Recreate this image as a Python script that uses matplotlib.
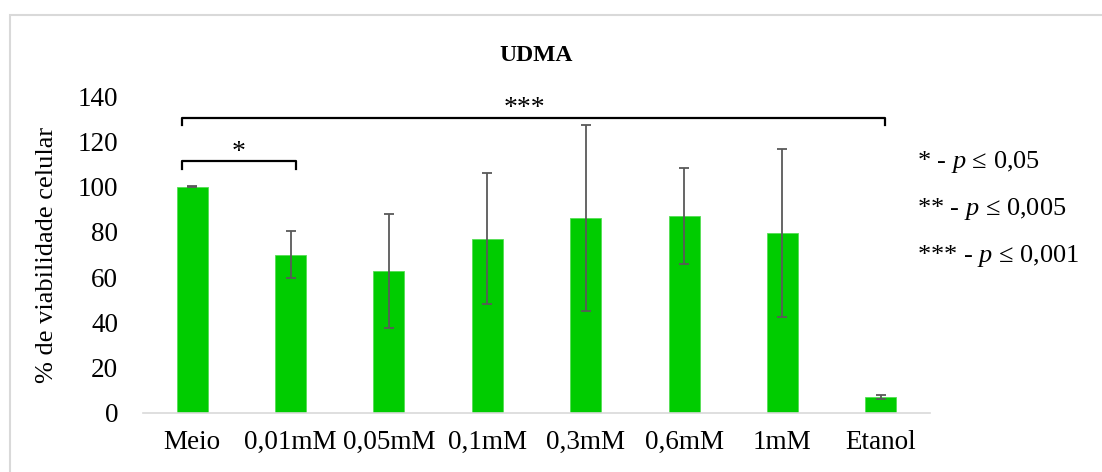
import matplotlib.pyplot as plt
from matplotlib.patches import Rectangle

plt.rcParams['font.family'] = ['Liberation Serif', 'DejaVu Serif']
plt.rcParams['mathtext.fontset'] = 'custom'
plt.rcParams['mathtext.rm'] = 'Liberation Serif'
plt.rcParams['mathtext.it'] = 'Liberation Serif:italic'

categorias = ['Meio', '0,01mM', '0,05mM', '0,1mM', '0,3mM', '0,6mM', '1mM', 'Etanol']
viabilidade = [100, 70, 62.8, 77, 86, 87, 79.6, 7]
erro = [0.3, 10.2, 25.3, 29, 41, 21.2, 37, 1]
legenda = ['* - $p$ ≤ 0,05', '** - $p$ ≤ 0,005', '*** - $p$ ≤ 0,001']

fig = plt.figure(figsize=(11.02, 4.72), dpi=100)
fig.patches.append(Rectangle((10 / 1102, -0.1), 1.2, 1 - 15 / 472 + 0.1,
                             transform=fig.transFigure, fill=False,
                             edgecolor='#d9d9d9', linewidth=1.5))
ax = fig.add_axes([143 / 1102, 1 - 413 / 472, 787 / 1102, 317 / 472])

x = range(len(categorias))
ax.bar(x, viabilidade, width=0.315, color='#00cc00', edgecolor='#55dd55', linewidth=0.6,
       yerr=erro, error_kw=dict(ecolor='#595959', elinewidth=1.3, capsize=3.8, capthick=1.3))

ax.set_xlim(-0.5, len(categorias) - 0.5)
ax.set_ylim(0, 140)
ax.set_yticks(range(0, 141, 20))
ax.set_xticks(list(x))
ax.set_xticklabels(categorias)
ax.tick_params(axis='both', length=0, labelsize=19.5, colors='black')
ax.tick_params(axis='y', pad=18)
ax.tick_params(axis='x', pad=12)
for s in ['top', 'right', 'left']:
    ax.spines[s].set_visible(False)
ax.spines['bottom'].set_color('#d9d9d9')
ax.spines['bottom'].set_linewidth(1.2)

ax.set_ylabel('% de viabilidade celular', fontsize=19, labelpad=14)
ax.set_title('UDMA', fontsize=17, fontweight='bold', pad=25)

# brackets
ax.plot([-0.105, -0.105, 7.04, 7.04], [127.3, 130.4, 130.4, 127.3], color='black', lw=1.6, clip_on=False)
ax.text(3.38, 134.5, '***', ha='center', va='center', fontsize=20)
ax.plot([-0.105, -0.105, 1.054, 1.054], [107.8, 111.3, 111.3, 107.8], color='black', lw=1.6, clip_on=False)
ax.text(0.47, 115, '*', ha='center', va='center', fontsize=20)

for i, t in enumerate(legenda):
    fig.text(917 / 1102, 1 - (162 + 47 * i) / 472, t, fontsize=19, va='center', ha='left')

fig.savefig('out.png', dpi=100)
